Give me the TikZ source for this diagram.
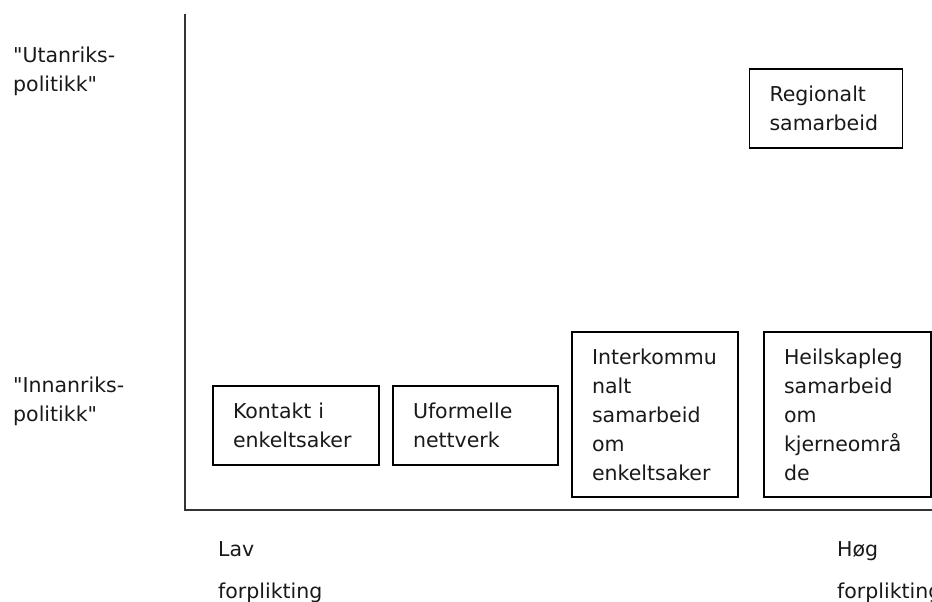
\documentclass[tikz,border=0pt]{standalone}
\usepackage{fontspec}
\setmainfont{DejaVu Sans}[Ligatures=TeXOff]
\begin{document}
\begin{tikzpicture}[x=1pt,y=-1pt,
  lbl/.style={inner sep=0pt, anchor=north west, align=left, text=black!90,
    font=\fontsize{20.5}{29}\selectfont},
  lowlbl/.style={lbl, font=\fontsize{20.5}{42}\selectfont},
  boxnode/.style={draw=black, line width=1.4pt, rectangle, inner xsep=20pt, inner ysep=0pt,
    align=left, text=black!90, font=\fontsize{20.5}{29}\selectfont},
  smallbox/.style={boxnode, minimum height=79pt},
  tallbox/.style={boxnode, minimum height=165pt},
  axisline/.style={draw=black!80, line width=2pt}]
\useasboundingbox (0,0) rectangle (932,602);
% axes
\coordinate (ytop) at (185,14);
\coordinate (origin) at (185,510);
\coordinate (xend) at (945,510);
\draw[axisline] (ytop) -- (origin) -- (xend);
% boxes
\node[smallbox, minimum width=166pt, text width=126pt] (kontakt) at (296,425.5) {Kontakt i\\enkeltsaker};
\node[smallbox, minimum width=165pt, text width=125pt] (uformelle) at (475.5,425.5) {Uformelle\\nettverk};
\node[tallbox, minimum width=166pt, text width=126pt] (interk) at (655,414.5) {Interkommu\\nalt\\samarbeid\\om\\enkeltsaker};
\node[tallbox, minimum width=167pt, text width=127pt] (heil) at (847.5,414.5) {Heilskapleg\\samarbeid\\om\\kjerneområ\\de};
\node[smallbox, minimum width=153pt, text width=113pt] (regional) at (826,108.5) {Regionalt\\samarbeid};
% axis labels
\node[lbl] (utan) at (13,46.4) {"Utanriks-\\politikk"};
\node[lbl] (innan) at (13,376.4) {"Innanriks-\\politikk"};
\node[lowlbl] (lav) at (218,541) {Lav\\forplikting};
\node[lowlbl] (hoeg) at (837,541) {Høg\\forplikting};
\end{tikzpicture}
\end{document}
